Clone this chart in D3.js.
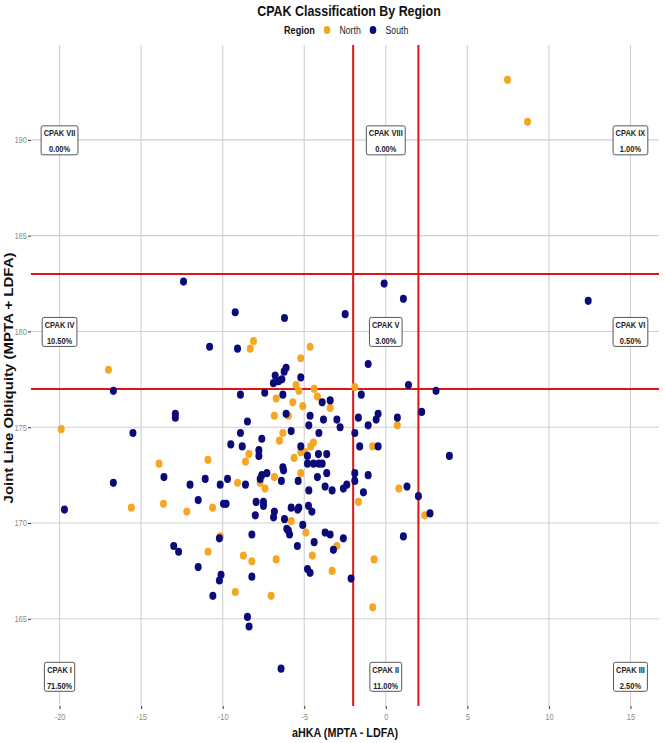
<!DOCTYPE html>
<html>
<head>
<meta charset="utf-8">
<script src="https://cdn.jsdelivr.net/npm/d3@7"></script>
<style>
  body { margin: 0; background: #fff; }
  svg { display: block; }
</style>
</head>
<body>
<div id="chart"></div>
<script>
// aHKA / JLO pairs, one array per region
var northPoints = [
    [7.46, 193.13], [8.69, 190.94], [-8.11, 179.5], [-8.31, 179.1], [-4.64, 179.2],
    [-5.21, 178.6], [-5.5, 177.2], [-5.33, 176.9], [-1.9, 177.1], [-4.39, 177.0],
    [-4.19, 176.6], [-6.72, 176.5], [-5.7, 176.3], [-5.09, 176.1], [-3.41, 176.0],
    [-6.83, 175.6], [-5.97, 175.6], [0.71, 175.1], [-6.31, 174.7], [-6.52, 174.3],
    [-8.39, 173.6], [-8.6, 173.2], [-5.21, 173.7], [-4.95, 173.7], [-4.6, 174.0],
    [-4.43, 174.2], [-5.62, 173.4], [-6.83, 172.4], [-7.7, 172.1], [-7.4, 171.8],
    [-5.21, 172.6], [-9.09, 172.1], [-1.68, 171.1], [-0.8, 174.0], [0.8, 171.8],
    [2.39, 170.4], [-5.8, 170.1], [-4.9, 169.5], [-10.15, 169.3], [-3.0, 168.8],
    [-8.73, 168.3], [-8.21, 168.0], [-6.72, 168.1], [-4.5, 168.3], [-0.72, 168.1],
    [-3.29, 167.5], [-9.23, 166.4], [-7.03, 166.2], [-0.8, 165.6], [-15.6, 170.8],
    [-13.63, 171.0], [-12.2, 170.6], [-10.62, 170.8], [-10.9, 168.5], [-19.9, 174.9],
    [-17.0, 178.0], [-13.9, 173.1], [-10.9, 173.3]
];
var southPoints = [
    [12.41, 181.6], [3.9, 173.5], [-12.4, 182.6], [-9.23, 181.0], [-0.1, 182.5],
    [1.08, 181.7], [-6.21, 180.7], [-2.49, 180.9], [-9.09, 179.1], [-1.08, 178.3],
    [-6.11, 178.1], [-6.23, 177.9], [-6.78, 177.7], [-6.89, 177.3], [-6.58, 177.4],
    [-6.37, 177.5], [-5.21, 177.6], [1.39, 177.2], [3.08, 176.9], [-8.91, 176.7],
    [-7.42, 176.8], [-6.31, 176.7], [-3.9, 176.3], [-3.41, 176.4], [-1.5, 176.7],
    [-6.11, 175.7], [-4.64, 175.6], [-3.82, 175.4], [-3.0, 175.4], [-2.8, 175.0],
    [-1.68, 175.5], [-0.59, 175.4], [-0.47, 175.7], [0.71, 175.5], [2.2, 175.8],
    [-1.08, 175.1], [-1.9, 174.7], [-8.48, 175.3], [-8.91, 174.7], [-7.6, 174.4],
    [-5.8, 174.8], [-4.72, 175.1], [-4.1, 174.7], [-9.5, 174.1], [-8.8, 174.0],
    [-7.78, 173.8], [-7.78, 173.5], [-5.21, 174.0], [-4.8, 173.5], [-4.13, 173.6],
    [-3.62, 173.6], [-4.8, 173.1], [-4.43, 173.1], [-4.1, 173.1], [-3.9, 173.1],
    [-6.31, 172.9], [-6.27, 172.75], [-7.29, 172.6], [-7.6, 172.5], [-7.7, 172.3],
    [-4.19, 172.4], [-3.62, 172.6], [-5.37, 172.2], [-6.4, 172.2], [-9.7, 172.3],
    [-8.6, 172.0], [-10.15, 172.0], [-4.72, 171.7], [-3.72, 171.9], [-3.29, 171.7],
    [-2.6, 171.8], [-2.39, 172.0], [-1.9, 172.6], [-1.9, 172.2], [-1.08, 172.5],
    [-1.37, 171.6], [-0.47, 174.0], [1.3, 171.9], [2.0, 171.4], [2.71, 170.5],
    [-9.95, 171.0], [-9.79, 171.0], [-7.95, 171.1], [-7.5, 171.1], [-7.5, 170.9],
    [-6.83, 170.6], [-5.8, 170.8], [-5.4, 170.7], [-5.33, 170.8], [-4.74, 170.9],
    [-4.53, 170.6], [-8.0, 170.4], [-6.88, 170.3], [-6.21, 170.2], [-5.09, 169.9],
    [-6.07, 169.7], [-5.97, 169.6], [-5.9, 169.4], [-8.21, 169.4], [-10.2, 169.2],
    [-3.72, 169.5], [-3.41, 169.4], [-2.6, 169.2], [-4.39, 169.0], [-5.42, 168.8],
    [-3.21, 168.6], [1.08, 169.3], [-4.8, 167.6], [-4.64, 167.4], [-8.21, 167.2],
    [-2.13, 167.1], [-8.48, 165.1], [-8.38, 164.6], [-6.42, 162.4], [-19.7, 170.7],
    [-11.5, 171.2], [-13.0, 168.8], [-12.7, 168.5], [-11.5, 167.7], [-10.1, 167.3],
    [-10.2, 167.0], [-10.6, 166.2], [-16.7, 176.9], [-15.5, 174.7], [-16.7, 172.1],
    [-13.6, 172.4], [-12.9, 175.7], [-12.9, 175.5], [-10.8, 179.2], [-12.0, 172.0],
    [-11.07, 172.3], [-1.6, 174.0]
];

var regions = ["North", "South"];
var xTicks = [-20, -15, -10, -5, 0, 5, 10, 15];
var yTicks = [165, 170, 175, 180, 185, 190];
var aHKACuts = [-2, 2];
var jloCuts = [177, 183];

var cpakNames = ["CPAK I", "CPAK II", "CPAK III", "CPAK IV", "CPAK V", "CPAK VI", "CPAK VII", "CPAK VIII", "CPAK IX"];
var cpakPct = ["71.50%", "11.00%", "2.50%", "10.50%", "3.00%", "0.50%", "0.00%", "0.00%", "1.00%"];
var cpakAHKA = [-20, 0, 15, -20, 0, 15, -20, 0, 15];
var cpakJLO = [162, 162, 162, 180, 180, 180, 190, 190, 190];

var width = 666, height = 743;
var panel = {left: 31, right: 659, top: 45, bottom: 706};
var squish = 0.83; // picture was squeezed sideways
var font = "'Liberation Sans', Arial, sans-serif";
var colours = {North: "#f5a623", South: "#0a0a78"};

var svg = d3.select("#chart").append("svg")
    .attr("width", width)
    .attr("height", height);

var x = d3.scaleLinear().domain([-21.75, 16.75]).range([panel.left, panel.right]);
var y = d3.scaleLinear().domain([160.45, 194.95]).range([panel.bottom, panel.top]);

// squeezed text at a point
var addText = function (g, tx, ty, str, size, weight, fill, anchor) {
    return g.append("text")
        .attr("transform", "translate(" + tx + "," + ty + ") scale(" + squish + ",1)")
        .attr("font-family", font)
        .attr("font-size", size)
        .attr("font-weight", weight)
        .attr("fill", fill)
        .attr("text-anchor", anchor)
        .text(str);
};

// grid
svg.append("g").selectAll("line.gx").data(xTicks).enter().append("line")
    .attr("x1", function (d) { return x(d); })
    .attr("x2", function (d) { return x(d); })
    .attr("y1", panel.top).attr("y2", panel.bottom)
    .attr("stroke", "#d0d0d0").attr("stroke-width", 1.1);
svg.append("g").selectAll("line.gy").data(yTicks).enter().append("line")
    .attr("x1", panel.left).attr("x2", panel.right)
    .attr("y1", function (d) { return y(d); })
    .attr("y2", function (d) { return y(d); })
    .attr("stroke", "#d0d0d0").attr("stroke-width", 1.1);

// axes
var gx = svg.append("g")
    .attr("transform", "translate(0," + panel.bottom + ")")
    .call(d3.axisBottom(x).tickValues(xTicks).tickSize(3).tickPadding(5).tickFormat(function (d) { return String(d); }));
var gy = svg.append("g")
    .attr("transform", "translate(" + panel.left + ",0)")
    .call(d3.axisLeft(y).tickValues(yTicks).tickSize(3).tickPadding(2).tickFormat(function (d) { return String(d); }));
[gx, gy].forEach(function (g) {
    g.select(".domain").remove();
    g.selectAll(".tick line").attr("stroke", "#333");
    g.selectAll(".tick text")
        .attr("fill", "#8c8c8c")
        .attr("font-size", 9)
        .attr("font-family", font)
        .attr("transform", "scale(" + squish + ",1)");
});

// threshold lines
svg.append("g").selectAll("line").data(jloCuts).enter().append("line")
    .attr("x1", panel.left).attr("x2", panel.right)
    .attr("y1", function (d) { return y(d); })
    .attr("y2", function (d) { return y(d); })
    .attr("stroke", "#e01414").attr("stroke-width", 2);
svg.append("g").selectAll("line").data(aHKACuts).enter().append("line")
    .attr("x1", function (d) { return x(d); })
    .attr("x2", function (d) { return x(d); })
    .attr("y1", panel.top).attr("y2", panel.bottom)
    .attr("stroke", "#e01414").attr("stroke-width", 2);

// points, north underneath
var drawPoints = function (pts, col) {
    svg.append("g").selectAll("ellipse").data(pts).enter().append("ellipse")
        .attr("cx", function (d) { return x(d[0]); })
        .attr("cy", function (d) { return y(d[1]); })
        .attr("rx", 3.5).attr("ry", 4.1)
        .attr("fill", col);
};
drawPoints(northPoints, colours.North);
drawPoints(southPoints, colours.South);

// CPAK labels
cpakNames.forEach(function (name, i) {
    var cx = x(cpakAHKA[i]), cy = y(cpakJLO[i]);
    var g = svg.append("g");
    var box = g.append("rect");
    var t1 = addText(g, cx, cy - 3.5, name, 9, "bold", "#222", "middle");
    var t2 = addText(g, cx, cy + 12.2, cpakPct[i], 9, "bold", "#222", "middle");
    var w = Math.max(t1.node().getComputedTextLength(), t2.node().getComputedTextLength()) * squish + 5;
    box.attr("x", cx - w / 2).attr("y", cy - 14)
        .attr("width", w).attr("height", 29)
        .attr("rx", 2)
        .attr("fill", "#fff").attr("stroke", "#444").attr("stroke-width", 0.9);
});

// title and legend
addText(svg, 349, 16, "CPAK Classification By Region", 15, "bold", "#111", "middle");
addText(svg, 284, 34, "Region", 11, "bold", "#111", "start");
var legX = [327, 373];
regions.forEach(function (r, i) {
    svg.append("ellipse")
        .attr("cx", legX[i]).attr("cy", 30)
        .attr("rx", 3.3).attr("ry", 3.9)
        .attr("fill", colours[r]);
    addText(svg, legX[i] + 12.5, 34, r, 10.5, "normal", "#222", "start");
});

// axis titles
addText(svg, 345, 737, "aHKA (MPTA - LDFA)", 13, "bold", "#111", "middle");
svg.append("text")
    .attr("transform", "translate(13,378) rotate(-90) scale(1," + squish + ")")
    .attr("font-family", font)
    .attr("font-size", 15)
    .attr("font-weight", "bold")
    .attr("fill", "#111")
    .attr("text-anchor", "middle")
    .text("Joint Line Obliquity (MPTA + LDFA)");
</script>
</body>
</html>
